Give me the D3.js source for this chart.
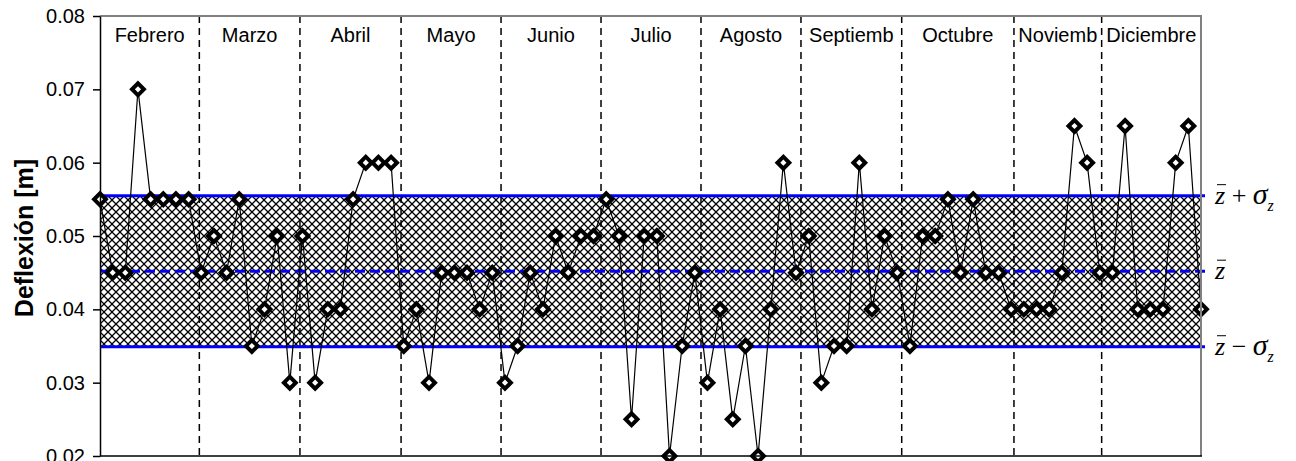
<!DOCTYPE html>
<html>
<head>
<meta charset="utf-8"/>
<script src="https://cdn.jsdelivr.net/npm/d3@7"></script>
<style>
body { margin: 0; background: #fff; }
.month-label { font-family: Arial, "Liberation Sans", sans-serif; font-size: 20px; fill: #000; }
.y-axis .tick text { font-family: Arial, "Liberation Sans", sans-serif; font-size: 20px; fill: #000; }
.y-axis .tick line, .y-axis .domain { stroke: #000; stroke-width: 1.5; }
.ylabel { font-family: Arial, "Liberation Sans", sans-serif; font-size: 25px; font-weight: bold; }
.stat-label { font-family: "Times New Roman", "Liberation Serif", serif; font-size: 26px; fill: #000; }
.month-line { stroke: #000; stroke-width: 1.5; stroke-dasharray: 7,5; }
</style>
</head>
<body>
<svg id="chart" width="1296" height="461"></svg>
<script>
// month names and their edges, in data-point index units
var months = ["Febrero", "Marzo", "Abril", "Mayo", "Junio", "Julio", "Agosto",
              "Septiemb", "Octubre", "Noviemb", "Diciembre"];
var monthEdges = [0, 7.85, 15.8, 23.79, 31.69, 39.59, 47.49, 55.39, 63.35, 72.22, 79.15, 87];

// deflexion readings [m]
var deflexion = [
  0.055, 0.045, 0.045, 0.070, 0.055, 0.055, 0.055, 0.055,
  0.045, 0.050, 0.045, 0.055, 0.035, 0.040, 0.050, 0.030,
  0.050, 0.030, 0.040, 0.040, 0.055, 0.060, 0.060, 0.060,
  0.035, 0.040, 0.030, 0.045, 0.045, 0.045, 0.040, 0.045,
  0.030, 0.035, 0.045, 0.040, 0.050, 0.045, 0.050, 0.050,
  0.055, 0.050, 0.025, 0.050, 0.050, 0.020, 0.035, 0.045,
  0.030, 0.040, 0.025, 0.035, 0.020, 0.040, 0.060, 0.045,
  0.050, 0.030, 0.035, 0.035, 0.060, 0.040, 0.050, 0.045,
  0.035, 0.050, 0.050, 0.055, 0.045, 0.055, 0.045, 0.045,
  0.040, 0.040, 0.040, 0.040, 0.045, 0.065, 0.060, 0.045,
  0.045, 0.065, 0.040, 0.040, 0.040, 0.060, 0.065, 0.040
];

var zMean = 0.0452;
var zSigma = 0.0103;
var yTicks = [0.02, 0.03, 0.04, 0.05, 0.06, 0.07, 0.08];

var svg = d3.select("#chart");
var pLeft = 100, pRight = 1201, pTop = 16, pBottom = 456;

var x = d3.scaleLinear().domain([0, deflexion.length - 1]).range([pLeft, pRight]);
var y = d3.scaleLinear().domain([0.02, 0.08]).range([pBottom, pTop]);

// crosshatch pattern
var defs = svg.append("defs");
defs.append("pattern")
    .attr("id", "hatch")
    .attr("patternUnits", "userSpaceOnUse")
    .attr("width", 8)
    .attr("height", 8)
  .append("path")
    .attr("d", "M-2,-2L10,10M10,-2L-2,10")
    .attr("stroke", "#000")
    .attr("stroke-width", 1.25);

// band z +/- sigma
svg.append("rect")
    .attr("x", x(0))
    .attr("width", x(deflexion.length - 1) - x(0))
    .attr("y", y(zMean + zSigma))
    .attr("height", y(zMean - zSigma) - y(zMean + zSigma))
    .attr("fill", "url(#hatch)");

// month dividers
svg.append("g").selectAll("line")
    .data(monthEdges.slice(1, -1))
    .enter().append("line")
    .attr("class", "month-line")
    .attr("x1", function(d) { return x(d); })
    .attr("x2", function(d) { return x(d); })
    .attr("y1", pTop)
    .attr("y2", pBottom);

svg.append("g").selectAll("text")
    .data(months)
    .enter().append("text")
    .attr("class", "month-label")
    .attr("text-anchor", "middle")
    .attr("x", function(d, i) { return (x(monthEdges[i]) + x(monthEdges[i + 1])) / 2; })
    .attr("y", 42)
    .text(function(d) { return d; });

// mean and sigma lines
var statLines = [
  {v: zMean + zSigma, dash: null},
  {v: zMean, dash: "10,5"},
  {v: zMean - zSigma, dash: null}
];
svg.append("g").selectAll("line")
    .data(statLines)
    .enter().append("line")
    .attr("x1", pLeft)
    .attr("x2", pRight + 4)
    .attr("y1", function(d) { return y(d.v); })
    .attr("y2", function(d) { return y(d.v); })
    .attr("stroke", "#0000ff")
    .attr("stroke-width", 3)
    .attr("stroke-dasharray", function(d) { return d.dash; });

// data line
var line = d3.line()
    .x(function(d, i) { return x(i); })
    .y(function(d) { return y(d); });

svg.append("path")
    .datum(deflexion)
    .attr("fill", "none")
    .attr("stroke", "#000")
    .attr("stroke-width", 1.2)
    .attr("d", line);

var diamond = d3.symbol().type(d3.symbolSquare).size(70);
svg.append("g").selectAll("path")
    .data(deflexion)
    .enter().append("path")
    .attr("d", diamond)
    .attr("transform", function(d, i) { return "translate(" + x(i) + "," + y(d) + ") rotate(45)"; })
    .attr("fill", "#fff")
    .attr("stroke", "#000")
    .attr("stroke-width", 4);

// frame
svg.append("path")
    .attr("d", "M" + pLeft + "," + pTop + "H" + pRight + "V" + pBottom)
    .attr("fill", "none")
    .attr("stroke", "#808080")
    .attr("stroke-width", 2);
svg.append("line")
    .attr("x1", pLeft).attr("x2", pRight + 1)
    .attr("y1", pBottom).attr("y2", pBottom)
    .attr("stroke", "#000").attr("stroke-width", 1.5);

svg.append("g")
    .attr("class", "y-axis")
    .attr("transform", "translate(" + pLeft + ",0)")
    .call(d3.axisLeft(y).tickValues(yTicks).tickFormat(d3.format(".2f")).tickSize(7).tickPadding(8).tickSizeOuter(0));

svg.append("text")
    .attr("class", "ylabel")
    .attr("text-anchor", "middle")
    .attr("transform", "translate(33," + ((pTop + pBottom) / 2 + 2) + ") rotate(-90)")
    .text("Deflexión [m]");

// labels on the right
var lx = pRight + 14;
function zbar(g, yy) {
  g.append("line")
    .attr("x1", lx + 2).attr("x2", lx + 11)
    .attr("y1", yy - 19).attr("y2", yy - 19)
    .attr("stroke", "#000").attr("stroke-width", 1);
}
var labels = [
  {v: zMean + zSigma, op: "+"},
  {v: zMean, op: null},
  {v: zMean - zSigma, op: "\u2212"}
];
labels.forEach(function(d) {
  var yy = y(d.v) + 8;
  var t = svg.append("text").attr("class", "stat-label").attr("x", lx).attr("y", yy);
  t.append("tspan").attr("font-style", "italic").text("z");
  if (d.op) {
    t.append("tspan").text(" " + d.op + " ");
    t.append("tspan").attr("font-style", "italic").attr("font-size", "30px").text("\u03c3");
    t.append("tspan").attr("font-style", "italic").attr("font-size", "16px").attr("dy", 7).text("z");
  }
  zbar(svg, yy);
});
</script>
</body>
</html>
